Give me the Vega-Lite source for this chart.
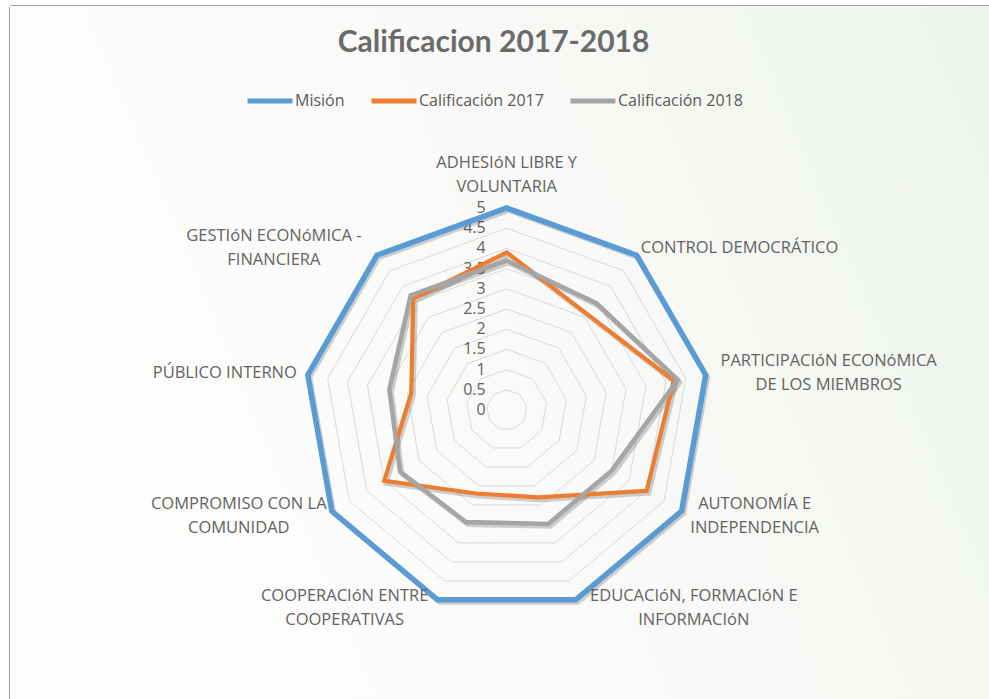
{
  "$schema": "https://vega.github.io/schema/vega-lite/v6.json",
  "width": 979,
  "height": 693,
  "autosize": {"type": "none"},
  "padding": {"left": 10, "top": 6, "right": 0, "bottom": 0},
  "background": "#ffffff",
  "config": {"view": {"stroke": null}, "font": "Open Sans"},
  "title": {
    "text": "Calificacion 2017-2018",
    "font": "Lato",
    "fontSize": 30,
    "fontWeight": "bold",
    "color": "#6b6b6b",
    "anchor": "middle",
    "frame": "group",
    "orient": "top",
    "offset": -76,
    "dx": -6,
    "baseline": "alphabetic"
  },
  "datasets": {
    "series": [
      {"serie": "Misión", "k": 0, "cat": "ADHESIÓN LIBRE Y VOLUNTARIA", "value": 5},
      {"serie": "Misión", "k": 1, "cat": "CONTROL DEMOCRÁTICO", "value": 5},
      {"serie": "Misión", "k": 2, "cat": "PARTICIPACIÓN ECONÓMICA DE LOS MIEMBROS", "value": 5},
      {"serie": "Misión", "k": 3, "cat": "AUTONOMÍA E INDEPENDENCIA", "value": 5},
      {"serie": "Misión", "k": 4, "cat": "EDUCACIÓN, FORMACIÓN E INFORMACIÓN", "value": 5},
      {"serie": "Misión", "k": 5, "cat": "COOPERACIÓN ENTRE COOPERATIVAS", "value": 5},
      {"serie": "Misión", "k": 6, "cat": "COMPROMISO CON LA COMUNIDAD", "value": 5},
      {"serie": "Misión", "k": 7, "cat": "PÚBLICO INTERNO", "value": 5},
      {"serie": "Misión", "k": 8, "cat": "GESTIÓN ECONÓMICA - FINANCIERA", "value": 5},
      {"serie": "Calificación 2017", "k": 0, "cat": "ADHESIÓN LIBRE Y VOLUNTARIA", "value": 3.9},
      {"serie": "Calificación 2017", "k": 1, "cat": "CONTROL DEMOCRÁTICO", "value": 3.1},
      {"serie": "Calificación 2017", "k": 2, "cat": "PARTICIPACIÓN ECONÓMICA DE LOS MIEMBROS", "value": 4.2},
      {"serie": "Calificación 2017", "k": 3, "cat": "AUTONOMÍA E INDEPENDENCIA", "value": 4.0},
      {"serie": "Calificación 2017", "k": 4, "cat": "EDUCACIÓN, FORMACIÓN E INFORMACIÓN", "value": 2.3},
      {"serie": "Calificación 2017", "k": 5, "cat": "COOPERACIÓN ENTRE COOPERATIVAS", "value": 2.2},
      {"serie": "Calificación 2017", "k": 6, "cat": "COMPROMISO CON LA COMUNIDAD", "value": 3.5},
      {"serie": "Calificación 2017", "k": 7, "cat": "PÚBLICO INTERNO", "value": 2.4},
      {"serie": "Calificación 2017", "k": 8, "cat": "GESTIÓN ECONÓMICA - FINANCIERA", "value": 3.6},
      {"serie": "Calificación 2018", "k": 0, "cat": "ADHESIÓN LIBRE Y VOLUNTARIA", "value": 3.7},
      {"serie": "Calificación 2018", "k": 1, "cat": "CONTROL DEMOCRÁTICO", "value": 3.45},
      {"serie": "Calificación 2018", "k": 2, "cat": "PARTICIPACIÓN ECONÓMICA DE LOS MIEMBROS", "value": 4.3},
      {"serie": "Calificación 2018", "k": 3, "cat": "AUTONOMÍA E INDEPENDENCIA", "value": 3.0},
      {"serie": "Calificación 2018", "k": 4, "cat": "EDUCACIÓN, FORMACIÓN E INFORMACIÓN", "value": 3.0},
      {"serie": "Calificación 2018", "k": 5, "cat": "COOPERACIÓN ENTRE COOPERATIVAS", "value": 2.95},
      {"serie": "Calificación 2018", "k": 6, "cat": "COMPROMISO CON LA COMUNIDAD", "value": 3.05},
      {"serie": "Calificación 2018", "k": 7, "cat": "PÚBLICO INTERNO", "value": 2.95},
      {"serie": "Calificación 2018", "k": 8, "cat": "GESTIÓN ECONÓMICA - FINANCIERA", "value": 3.7}
    ],
    "cats": [
      {"k": 0, "label": ["ADHESIóN LIBRE Y", "VOLUNTARIA"]},
      {"k": 1, "label": ["CONTROL DEMOCRÁTICO"]},
      {"k": 2, "label": ["PARTICIPACIóN ECONóMICA", "DE LOS MIEMBROS"]},
      {"k": 3, "label": ["AUTONOMÍA E", "INDEPENDENCIA"]},
      {"k": 4, "label": ["EDUCACIóN, FORMACIóN E", "INFORMACIóN"]},
      {"k": 5, "label": ["COOPERACIóN ENTRE", "COOPERATIVAS"]},
      {"k": 6, "label": ["COMPROMISO CON LA", "COMUNIDAD"]},
      {"k": 7, "label": ["PÚBLICO INTERNO"]},
      {"k": 8, "label": ["GESTIóN ECONóMICA -", "FINANCIERA"]}
    ],
    "levels": [
      {"level": 0.5, "k": [0, 1, 2, 3, 4, 5, 6, 7, 8]},
      {"level": 1, "k": [0, 1, 2, 3, 4, 5, 6, 7, 8]},
      {"level": 1.5, "k": [0, 1, 2, 3, 4, 5, 6, 7, 8]},
      {"level": 2, "k": [0, 1, 2, 3, 4, 5, 6, 7, 8]},
      {"level": 2.5, "k": [0, 1, 2, 3, 4, 5, 6, 7, 8]},
      {"level": 3, "k": [0, 1, 2, 3, 4, 5, 6, 7, 8]},
      {"level": 3.5, "k": [0, 1, 2, 3, 4, 5, 6, 7, 8]},
      {"level": 4, "k": [0, 1, 2, 3, 4, 5, 6, 7, 8]},
      {"level": 4.5, "k": [0, 1, 2, 3, 4, 5, 6, 7, 8]},
      {"level": 5, "k": [0, 1, 2, 3, 4, 5, 6, 7, 8]}
    ],
    "ticks": [
      {"level": 0}, {"level": 0.5}, {"level": 1}, {"level": 1.5}, {"level": 2},
      {"level": 2.5}, {"level": 3}, {"level": 3.5}, {"level": 4}, {"level": 4.5}, {"level": 5}
    ]
  },
  "layer": [
    {
      "data": {"values": [{"bg": 1}]},
      "mark": {
        "type": "rect",
        "fill": {
          "gradient": "linear",
          "x1": 0, "y1": 0.3, "x2": 1, "y2": 0,
          "stops": [
            {"offset": 0, "color": "#fdfdfc"},
            {"offset": 0.55, "color": "#f8f9f6"},
            {"offset": 1, "color": "#edf3ea"}
          ]
        }
      },
      "encoding": {}
    },
    {
      "data": {"name": "levels"},
      "transform": [
        {"flatten": ["k"]},
        {"calculate": "datum.level * sin(datum.k * 2 * PI / 9)", "as": "px"},
        {"calculate": "datum.level * cos(datum.k * 2 * PI / 9)", "as": "py"}
      ],
      "mark": {"type": "line", "interpolate": "linear-closed", "stroke": "#d9d9d9", "strokeWidth": 1},
      "encoding": {
        "x": {"field": "px", "type": "quantitative", "scale": {"domain": [-12.295, 11.938], "nice": false, "zero": false},
              "axis": {"orient": "top", "labels": false, "ticks": false, "grid": false, "title": null, "domainColor": "#404040", "domainWidth": 2}},
        "y": {"field": "py", "type": "quantitative", "scale": {"domain": [-7.153, 10.0], "nice": false, "zero": false},
              "axis": {"orient": "left", "labels": false, "ticks": false, "grid": false, "title": null, "domainColor": "#404040", "domainWidth": 2}},
        "detail": {"field": "level", "type": "nominal"},
        "order": {"field": "k", "type": "quantitative"}
      }
    },
    {
      "data": {"name": "ticks"},
      "transform": [
        {"calculate": "0", "as": "px"},
        {"calculate": "datum.level", "as": "py"}
      ],
      "mark": {"type": "text", "align": "right", "baseline": "middle", "dx": -21, "font": "Open Sans", "fontSize": 16, "fill": "#636363"},
      "encoding": {
        "x": {"field": "px", "type": "quantitative", "axis": {"orient": "top", "labels": false, "ticks": false, "grid": false, "title": null, "domainColor": "#404040", "domainWidth": 2}},
        "y": {"field": "py", "type": "quantitative", "axis": {"orient": "left", "labels": false, "ticks": false, "grid": false, "title": null, "domainColor": "#404040", "domainWidth": 2}},
        "text": {"field": "level", "type": "quantitative"}
      }
    },
    {
      "data": {"name": "series"},
      "transform": [
        {"calculate": "datum.value * sin(datum.k * 2 * PI / 9) + 0.05", "as": "px"},
        {"calculate": "datum.value * cos(datum.k * 2 * PI / 9) - 0.06", "as": "py"}
      ],
      "mark": {"type": "line", "interpolate": "linear-closed", "stroke": "#000000", "strokeOpacity": 0.18, "strokeWidth": 5, "strokeJoin": "miter"},
      "encoding": {
        "x": {"field": "px", "type": "quantitative", "axis": {"orient": "top", "labels": false, "ticks": false, "grid": false, "title": null, "domainColor": "#404040", "domainWidth": 2}},
        "y": {"field": "py", "type": "quantitative", "axis": {"orient": "left", "labels": false, "ticks": false, "grid": false, "title": null, "domainColor": "#404040", "domainWidth": 2}},
        "detail": {"field": "serie", "type": "nominal"},
        "order": {"field": "k", "type": "quantitative"}
      }
    },
    {
      "data": {"name": "series"},
      "transform": [
        {"filter": "datum.serie === 'Misión'"},
        {"calculate": "datum.value * sin(datum.k * 2 * PI / 9)", "as": "px"},
        {"calculate": "datum.value * cos(datum.k * 2 * PI / 9)", "as": "py"}
      ],
      "mark": {"type": "line", "interpolate": "linear-closed", "strokeWidth": 5.5, "strokeJoin": "miter"},
      "encoding": {
        "x": {"field": "px", "type": "quantitative", "axis": {"orient": "top", "labels": false, "ticks": false, "grid": false, "title": null, "domainColor": "#404040", "domainWidth": 2}},
        "y": {"field": "py", "type": "quantitative", "axis": {"orient": "left", "labels": false, "ticks": false, "grid": false, "title": null, "domainColor": "#404040", "domainWidth": 2}},
        "color": {"field": "serie", "type": "nominal",
                  "scale": {"domain": ["Misión", "Calificación 2017", "Calificación 2018"], "range": ["#5b9bd5", "#ed7d31", "#a5a5a5"]},
                  "legend": {"orient": "none", "legendX": 235, "legendY": 70, "direction": "horizontal", "title": null,
                             "symbolType": "stroke", "symbolSize": 2025, "symbolStrokeWidth": 5,
                             "labelFont": "Open Sans", "labelFontSize": 16, "labelColor": "#595959",
                             "labelOffset": 0, "columnPadding": 16, "labelLimit": 300}},
        "order": {"field": "k", "type": "quantitative"}
      }
    },
    {
      "data": {"name": "series"},
      "transform": [
        {"filter": "datum.serie === 'Calificación 2017'"},
        {"calculate": "datum.value * sin(datum.k * 2 * PI / 9)", "as": "px"},
        {"calculate": "datum.value * cos(datum.k * 2 * PI / 9)", "as": "py"}
      ],
      "mark": {"type": "line", "interpolate": "linear-closed", "strokeWidth": 4.2, "strokeJoin": "miter"},
      "encoding": {
        "x": {"field": "px", "type": "quantitative", "axis": {"orient": "top", "labels": false, "ticks": false, "grid": false, "title": null, "domainColor": "#404040", "domainWidth": 2}},
        "y": {"field": "py", "type": "quantitative", "axis": {"orient": "left", "labels": false, "ticks": false, "grid": false, "title": null, "domainColor": "#404040", "domainWidth": 2}},
        "color": {"field": "serie", "type": "nominal"},
        "order": {"field": "k", "type": "quantitative"}
      }
    },
    {
      "data": {"name": "series"},
      "transform": [
        {"filter": "datum.serie === 'Calificación 2018'"},
        {"calculate": "datum.value * sin(datum.k * 2 * PI / 9)", "as": "px"},
        {"calculate": "datum.value * cos(datum.k * 2 * PI / 9)", "as": "py"}
      ],
      "mark": {"type": "line", "interpolate": "linear-closed", "strokeWidth": 4.5, "strokeJoin": "miter"},
      "encoding": {
        "x": {"field": "px", "type": "quantitative", "axis": {"orient": "top", "labels": false, "ticks": false, "grid": false, "title": null, "domainColor": "#404040", "domainWidth": 2}},
        "y": {"field": "py", "type": "quantitative", "axis": {"orient": "left", "labels": false, "ticks": false, "grid": false, "title": null, "domainColor": "#404040", "domainWidth": 2}},
        "color": {"field": "serie", "type": "nominal"},
        "order": {"field": "k", "type": "quantitative"}
      }
    },
    {
      "data": {"name": "cats"},
      "transform": [
        {"calculate": "sin(datum.k * 2 * PI / 9)", "as": "s"},
        {"calculate": "cos(datum.k * 2 * PI / 9)", "as": "c"},
        {"calculate": "length(datum.label)", "as": "n"},
        {"calculate": "max(length(datum.label[0]), datum.n > 1 ? length(datum.label[1]) : 0) * 5 / 40.4", "as": "hw"},
        {"calculate": "abs(datum.s) < 0.1 ? 0 : 5 * datum.s + (datum.s > 0 ? 1 : -1) * (datum.hw + 8 / 40.4)", "as": "px"},
        {"calculate": "(abs(datum.s) < 0.1 ? 5 + 33 / 40.4 : 5 * datum.c + 9 * datum.c / 40.4) + (datum.n - 1) * 12 / 40.4", "as": "py"}
      ],
      "mark": {"type": "text", "align": "center", "baseline": "middle", "lineHeight": 24, "font": "Open Sans", "fontSize": 16.5, "fill": "#636363"},
      "encoding": {
        "x": {"field": "px", "type": "quantitative", "axis": {"orient": "top", "labels": false, "ticks": false, "grid": false, "title": null, "domainColor": "#404040", "domainWidth": 2}},
        "y": {"field": "py", "type": "quantitative", "axis": {"orient": "left", "labels": false, "ticks": false, "grid": false, "title": null, "domainColor": "#404040", "domainWidth": 2}},
        "text": {"field": "label", "type": "nominal"}
      }
    }
  ]
}
